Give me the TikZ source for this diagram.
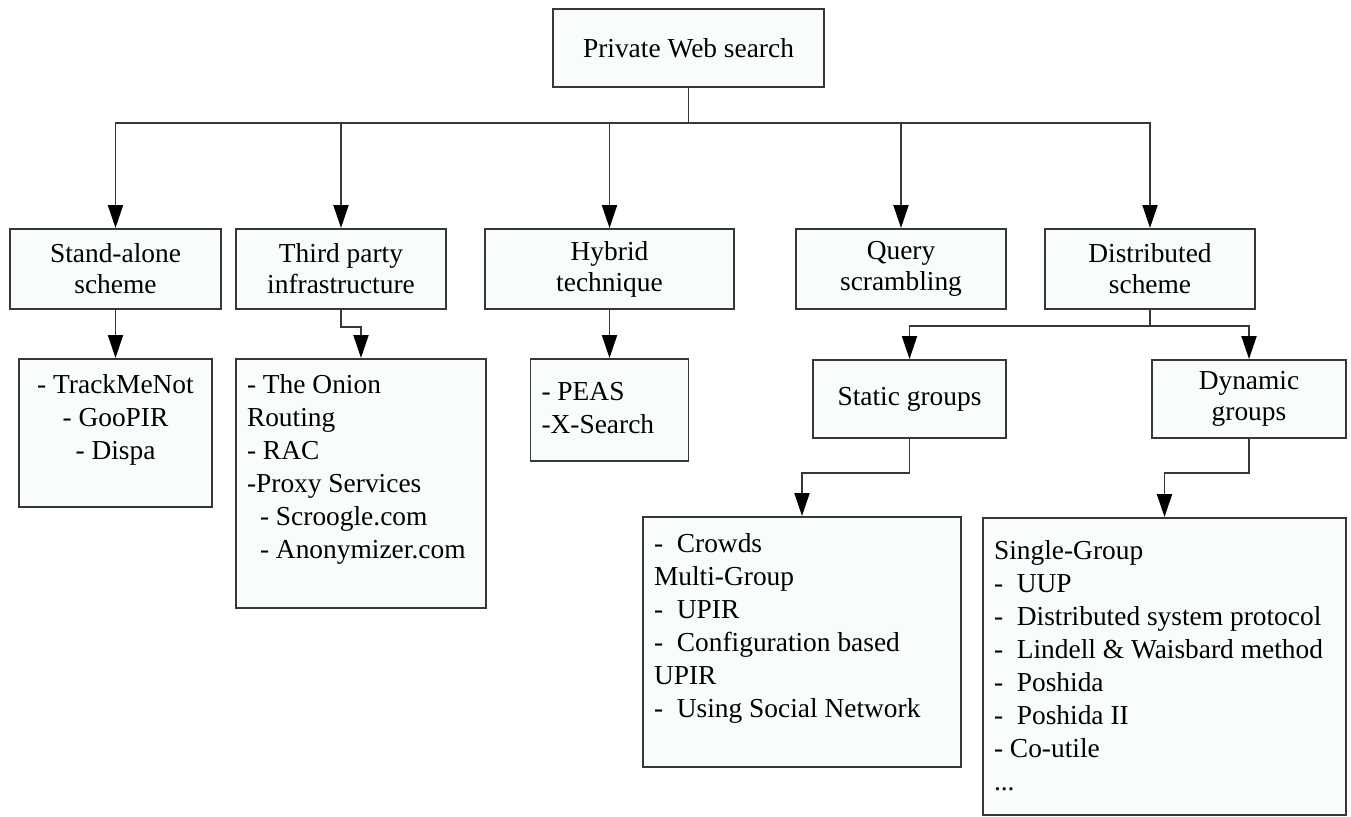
\documentclass[tikz,border=0pt]{standalone}
\usepackage{fontspec}
\setmainfont{Liberation Serif}
\usetikzlibrary{arrows.meta}
\definecolor{boxfill}{RGB}{249,252,252}
\definecolor{boxline}{RGB}{55,55,55}
\newcommand{\toplines}[3]{\parbox[c][#2][t]{#1}{#3}}

\begin{document}
\begin{tikzpicture}[
        font=\fontsize{15.6pt}{18.8pt}\selectfont,
        box/.style={draw=boxline, line width=1.1pt, fill=boxfill, inner sep=0pt, align=center, minimum height=1.6cm, font=\fontsize{15.6pt}{17.6pt}\selectfont},
        listbox/.style={draw=boxline, line width=1.1pt, fill=boxfill, inner xsep=0.22cm, inner ysep=0.3cm},
        conn/.style={draw=boxline, line width=1.1pt, -{Triangle[length=0.46cm, width=0.3cm, color=black]}}
    ]
        \useasboundingbox (0, 0) rectangle (27.02, -16.34);

        \node (0) at (13.77, -0.96)[box, minimum width=5.42cm, minimum height=1.56cm] {Private Web search};

        \node (1) at (2.31, -5.38)[box, minimum width=4.22cm] {Stand-alone\\scheme};
        \node (2) at (6.82, -5.38)[box, minimum width=4.2cm] {Third party\\infrastructure};
        \node (3) at (12.19, -5.38)[box, minimum width=4.98cm] {Hybrid\\technique};
        \node (4) at (18.02, -5.38)[box, minimum width=4.2cm] {Query\\scrambling};
        \node (5) at (23.0, -5.38)[box, minimum width=4.2cm] {Distributed\\scheme};

        \node (6) at (2.31, -8.66)[listbox] {\toplines{3.42cm}{2.36cm}{\centering - TrackMeNot\\- GooPIR\\- Dispa}};
        \node (7) at (7.22, -9.67)[listbox] {\toplines{4.56cm}{4.38cm}{- The Onion\\Routing\\- RAC\\-Proxy Services\\\hspace*{0.26cm}- Scroogle.com\\\hspace*{0.26cm}- Anonymizer.com}};
        \node (8) at (12.19, -8.2)[listbox, inner ysep=0.46cm] {\toplines{2.72cm}{1.12cm}{- PEAS\\-X-Search}};

        \node (9) at (18.19, -7.98)[box, minimum width=3.86cm, minimum height=1.56cm] {Static groups};
        \node (10) at (24.98, -7.98)[box, minimum width=3.88cm, minimum height=1.56cm] {Dynamic\\groups};

        \node (11) at (16.04, -12.84)[listbox, inner ysep=0.32cm] {\toplines{5.92cm}{4.36cm}{-~~Crowds\\Multi-Group\\-~~UPIR\\-~~Configuration based\\UPIR\\-~~Using Social Network}};
        \node (12) at (23.29, -13.33)[listbox, inner ysep=0.44cm] {\toplines{6.82cm}{5.06cm}{Single-Group\\-~~UUP\\-~~Distributed system protocol\\-~~Lindell \& Waisbard method\\-~~Poshida\\-~~Poshida II\\- Co-utile\\...}};

        \draw[conn] (0.south) -- ++(0, -0.7) -| (1);
        \draw[conn] (0.south) -- ++(0, -0.7) -| (2);
        \draw[conn] (0.south) -- ++(0, -0.7) -| (3);
        \draw[conn] (0.south) -- ++(0, -0.7) -| (4);
        \draw[conn] (0.south) -- ++(0, -0.7) -| (5);

        \draw[conn] (1) -- (6);
        \draw[conn] (2.south) -- ++(0, -0.34) -| (7);
        \draw[conn] (3) -- (8);

        \draw[conn] (5.south) -- ++(0, -0.32) -| (9);
        \draw[conn] (5.south) -- ++(0, -0.32) -| (10);
        \draw[conn] (9.south) -- ++(0, -0.68) -| (11);
        \draw[conn] (10.south) -- ++(0, -0.68) -| (12);
    \end{tikzpicture}
\end{document}
